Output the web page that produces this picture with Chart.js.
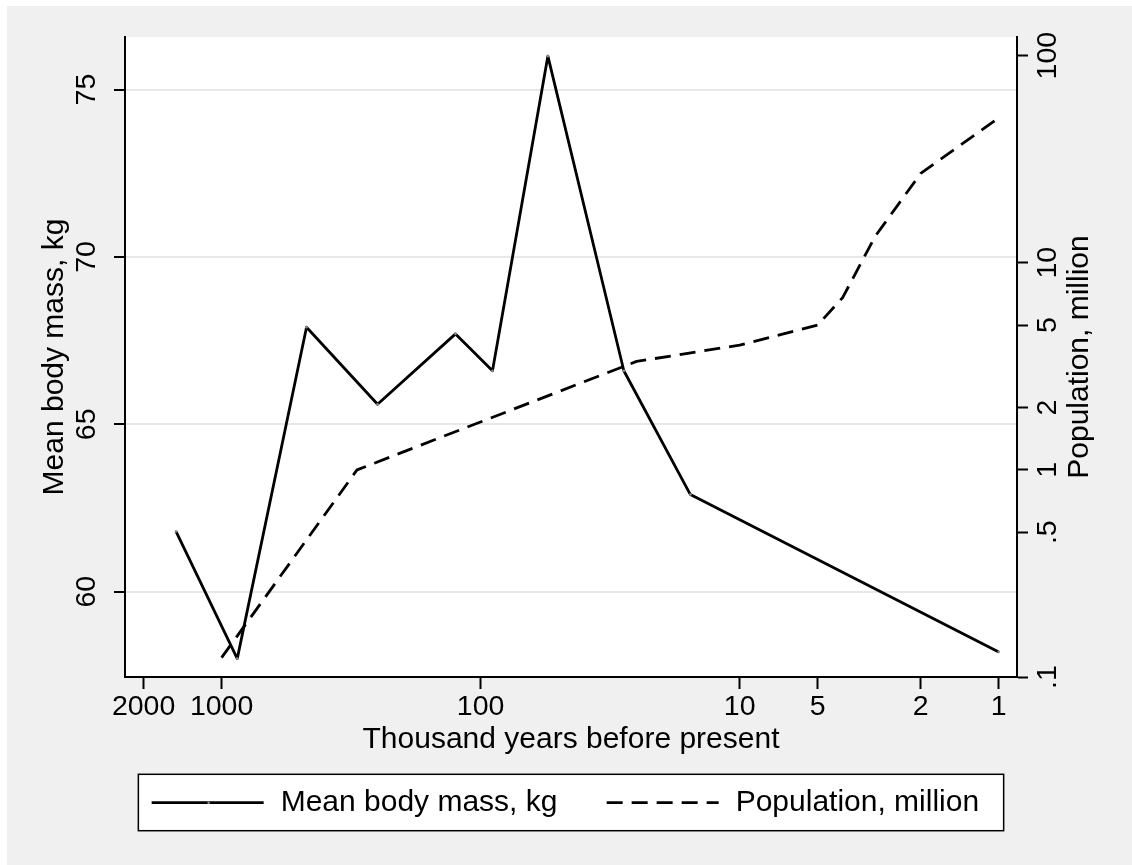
<!DOCTYPE html>
<html>
<head>
<meta charset="utf-8">
<title>Mean body mass and population</title>
<script src="https://cdn.jsdelivr.net/npm/chart.js@4.4.0/dist/chart.umd.min.js"></script>
<style>
  html, body { margin: 0; padding: 0; background: #fff; }
  canvas { display: block; }
</style>
</head>
<body>
<canvas id="myChart" width="1132" height="865"></canvas>
<script>
// Body mass series: thousand years before present, kg
const massYears = [1500, 870, 470, 250, 125, 90, 55, 28, 15.5, 1];
const massKg = [61.8, 58.0, 67.9, 65.6, 67.7, 66.6, 76.0, 66.6, 62.9, 58.2];

// Population series: thousand years before present, million
const popYears = [1000, 300, 25, 10, 5, 4, 3, 2, 1];
const popMillion = [0.124, 1, 3.34, 4, 5, 6.8, 13.4, 27, 50];

// Axis ticks
const xTicks = [2000, 1000, 100, 10, 5, 2, 1];
const massTicks = [60, 65, 70, 75];
const popTicks = [0.1, 0.5, 1, 2, 5, 10, 100];
const popTickLabels = [".1", ".5", "1", "2", "5", "10", "100"];

const FONT = "'Liberation Sans', Arial, Helvetica, sans-serif";
Chart.defaults.font.family = FONT;
Chart.defaults.color = "#000";

// Gray graph region, white plot region, right title and boxed legend
const stataFrame = {
    id: "stataFrame",

    beforeDraw(chart) {
        const { ctx, chartArea: a, width, height } = chart;
        ctx.save();
        ctx.fillStyle = "#fff";
        ctx.fillRect(0, 0, width, height);
        ctx.fillStyle = "#f0f0f0";
        ctx.fillRect(7, 6, width - 7, height - 6);
        ctx.fillStyle = "#fff";
        ctx.fillRect(a.left, a.top, a.right - a.left, a.bottom - a.top);
        ctx.restore();
    },

    afterDraw(chart) {
        const { ctx, chartArea: a } = chart;
        const midY = (a.top + a.bottom) / 2;

        // right axis title, reading upwards
        ctx.save();
        ctx.translate(1079.6, midY);
        ctx.rotate(-Math.PI / 2);
        ctx.font = "30px " + FONT;
        ctx.fillStyle = "#000";
        ctx.textAlign = "center";
        ctx.textBaseline = "middle";
        ctx.fillText("Population, million", 0, 0);
        ctx.restore();

        // legend box
        const boxW = 865.3;
        const boxH = 56.4;
        const boxL = (a.left + a.right) / 2 - boxW / 2;
        const boxT = 774.3;
        const lineY = boxT + 28.4;
        const itemX = [13.3, 468.3];

        ctx.save();
        ctx.fillStyle = "#fff";
        ctx.fillRect(boxL, boxT, boxW, boxH);
        ctx.strokeStyle = "#000";
        ctx.lineWidth = 1.5;
        ctx.strokeRect(boxL, boxT, boxW, boxH);

        chart.data.datasets.forEach((ds, i) => {
            const x0 = boxL + itemX[i];
            ctx.beginPath();
            ctx.setLineDash(ds.borderDash || []);
            ctx.lineWidth = ds.borderWidth;
            ctx.strokeStyle = ds.borderColor;
            ctx.moveTo(x0, lineY);
            ctx.lineTo(x0 + 112, lineY);
            ctx.stroke();
            ctx.setLineDash([]);

            if (ds.pointRadius > 0) {
                ctx.beginPath();
                ctx.fillStyle = ds.pointBackgroundColor;
                ctx.arc(x0 + 57, lineY, ds.pointRadius, 0, Math.PI * 2);
                ctx.fill();
            }

            ctx.font = "30px " + FONT;
            ctx.fillStyle = "#000";
            ctx.textAlign = "left";
            ctx.textBaseline = "middle";
            ctx.fillText(ds.label, x0 + 129, lineY);
        });
        ctx.restore();
    }
};

const ctx = document.getElementById("myChart");

new Chart(ctx, {
    type: "line",

    data: {
        datasets: [
            {
                label: "Mean body mass, kg",
                data: massYears.map((yr, i) => ({ x: yr, y: massKg[i] })),
                yAxisID: "y",
                borderColor: "#000",
                borderWidth: 2.8,
                borderJoinStyle: "round",
                pointRadius: 1.3,
                pointBorderWidth: 0,
                pointBackgroundColor: "#8c8c8c",
                tension: 0
            },
            {
                label: "Population, million",
                data: popYears.map((yr, i) => ({ x: yr, y: popMillion[i] })),
                yAxisID: "y2",
                borderColor: "#000",
                borderWidth: 2.8,
                borderDash: [16, 9],
                borderJoinStyle: "round",
                pointRadius: 0,
                tension: 0
            }
        ]
    },

    options: {
        responsive: false,
        animation: false,
        devicePixelRatio: 1,

        layout: {
            padding: { top: 37, left: 0, right: 0, bottom: 0 }
        },

        plugins: {
            legend: { display: false },
            tooltip: { enabled: false }
        },

        scales: {
            x: {
                type: "logarithmic",
                position: "bottom",
                reverse: true,
                min: 0.85,
                max: 2360,
                afterBuildTicks: (axis) => {
                    axis.ticks = xTicks.map(v => ({ value: v }));
                },
                afterFit: (axis) => {
                    axis.height = 188;
                },
                grid: {
                    drawOnChartArea: false,
                    tickLength: 12,
                    tickColor: "#000",
                    tickWidth: 2
                },
                border: { display: true, color: "#000", width: 2 },
                ticks: {
                    autoSkip: false,
                    minRotation: 0,
                    maxRotation: 0,
                    padding: 1,
                    color: "#000",
                    font: { size: 28.5 },
                    callback: (v) => String(v)
                },
                title: {
                    display: true,
                    text: "Thousand years before present",
                    color: "#000",
                    font: { size: 30, lineHeight: 1.2 },
                    padding: { top: 0, bottom: 107.4 }
                }
            },

            y: {
                type: "linear",
                position: "left",
                min: 57.45,
                max: 76.57,
                afterBuildTicks: (axis) => {
                    axis.ticks = massTicks.map(v => ({ value: v }));
                },
                afterFit: (axis) => {
                    axis.width = 125;
                },
                grid: {
                    color: "#e8e8e8",
                    lineWidth: 2,
                    tickLength: 11,
                    tickColor: "#000",
                    tickWidth: 2
                },
                border: { display: true, color: "#000", width: 2 },
                ticks: {
                    autoSkip: false,
                    minRotation: 90,
                    maxRotation: 90,
                    crossAlign: "center",
                    padding: 11.35,
                    color: "#000",
                    font: { size: 28.5 }
                },
                title: {
                    display: true,
                    text: "Mean body mass, kg",
                    color: "#000",
                    font: { size: 30, lineHeight: 1.2 },
                    padding: { top: 36.6, bottom: 0 }
                }
            },

            y2: {
                type: "logarithmic",
                position: "right",
                min: 0.1,
                max: 123,
                afterBuildTicks: (axis) => {
                    axis.ticks = popTicks.map(v => ({ value: v }));
                },
                afterFit: (axis) => {
                    axis.width = 115;
                },
                grid: {
                    drawOnChartArea: false,
                    tickLength: 11,
                    tickColor: "#000",
                    tickWidth: 2
                },
                border: { display: true, color: "#000", width: 2 },
                ticks: {
                    autoSkip: false,
                    minRotation: 90,
                    maxRotation: 90,
                    crossAlign: "center",
                    padding: -3.4,
                    color: "#000",
                    font: { size: 28.5 },
                    callback: (v, i) => popTickLabels[i]
                }
            }
        }
    },

    plugins: [stataFrame]
});
</script>
</body>
</html>
